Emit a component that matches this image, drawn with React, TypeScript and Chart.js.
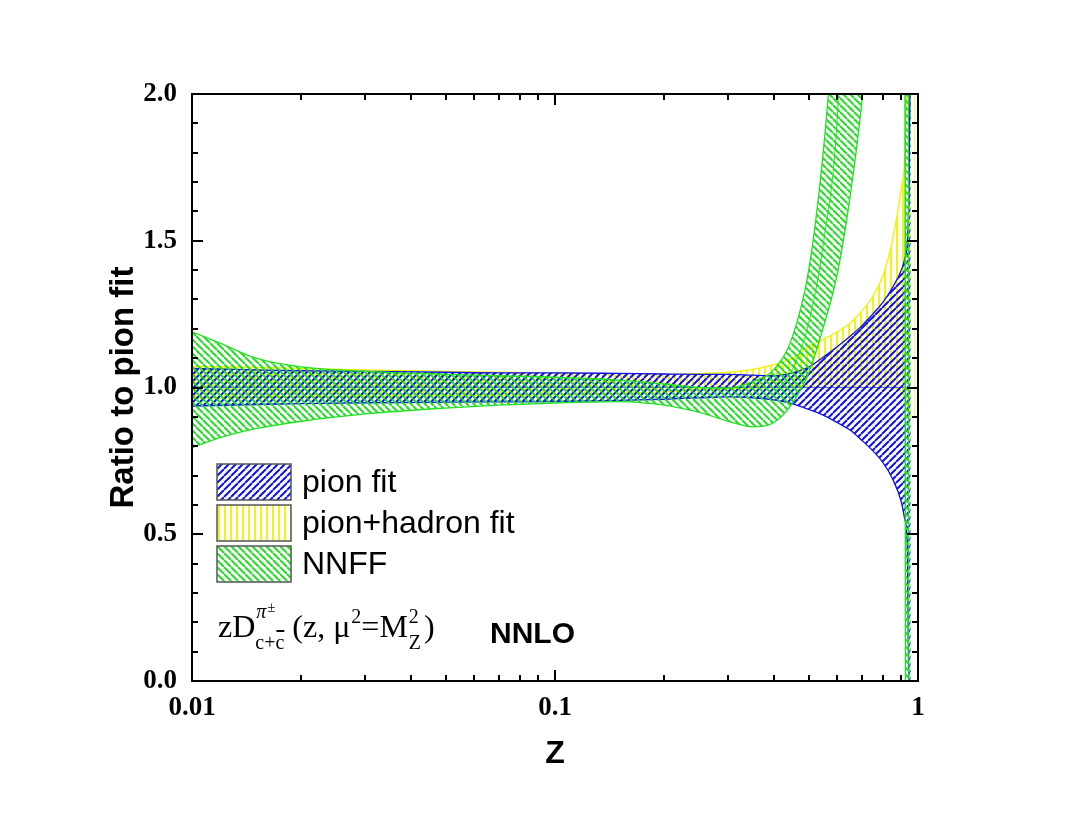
import React, { useEffect, useRef } from "react";
import { Chart, registerables } from "chart.js";

Chart.register(...registerables);

// ---------------- data ----------------
const zPion = [0.01, 0.015, 0.02, 0.03, 0.05, 0.07, 0.1, 0.15, 0.2, 0.25, 0.3, 0.35, 0.4, 0.45, 0.5, 0.55, 0.6, 0.65, 0.7, 0.75, 0.8, 0.85, 0.9, 0.92, 0.935, 0.945, 0.955];
const pionUpper = [1.065, 1.06, 1.057, 1.055, 1.052, 1.05, 1.05, 1.048, 1.046, 1.045, 1.045, 1.042, 1.04, 1.05, 1.07, 1.105, 1.14, 1.175, 1.21, 1.25, 1.29, 1.34, 1.4, 1.44, 1.5, 1.7, 2.3];
const pionLower = [0.937, 0.942, 0.945, 0.948, 0.95, 0.951, 0.952, 0.956, 0.96, 0.965, 0.968, 0.965, 0.958, 0.945, 0.925, 0.905, 0.88, 0.855, 0.82, 0.785, 0.745, 0.69, 0.61, 0.55, 0.45, -0.2, -0.5];
const pionCentral = [1, 1, 1, 1, 1, 1, 1, 1, 1, 1, 1, 1, 1, 1, 1, 1, 1, 1, 1, 1, 1, 1, 1, 1, 1, 1, 1];

const zHadron = [0.01, 0.015, 0.02, 0.03, 0.05, 0.07, 0.1, 0.15, 0.2, 0.25, 0.3, 0.35, 0.4, 0.45, 0.5, 0.55, 0.6, 0.65, 0.7, 0.75, 0.8, 0.85, 0.9, 0.92, 0.94, 0.96, 0.98];
const hadronUpper = [1.072, 1.068, 1.065, 1.06, 1.055, 1.052, 1.05, 1.047, 1.045, 1.047, 1.052, 1.062, 1.078, 1.1, 1.14, 1.165, 1.19, 1.22, 1.26, 1.31, 1.38, 1.5, 1.68, 1.79, 2.2, 2.6, 2.6];
const hadronLower = [0.963, 0.966, 0.968, 0.97, 0.972, 0.974, 0.975, 0.98, 0.985, 0.99, 0.995, 0.998, 1.0, 1.0, 1.0, 1.0, 1.0, 1.0, 1.0, 1.0, 1.0, 1.0, 0.985, 0.965, 0.93, 0.9, 0.9];

const zNNFF = [0.01, 0.012, 0.015, 0.02, 0.03, 0.05, 0.07, 0.1, 0.15, 0.2, 0.25, 0.3, 0.35, 0.4, 0.45, 0.5, 0.55, 0.6, 0.65, 0.7, 0.75, 0.8, 0.9, 0.92, 0.925, 0.94, 0.945, 1.0];
const nnffUpper = [1.19, 1.15, 1.1, 1.07, 1.055, 1.045, 1.04, 1.035, 1.025, 1.012, 1.0, 0.998, 1.02, 1.06, 1.17, 1.4, 1.82, 2.4, 3, 3, 3, 3, 3, 3, -1, -1, -1, -1];
const nnffLower = [0.795, 0.83, 0.86, 0.885, 0.91, 0.93, 0.94, 0.947, 0.952, 0.94, 0.915, 0.885, 0.866, 0.88, 0.945, 1.05, 1.21, 1.39, 1.65, 1.97, 2.4, 3, 3, 3, 3, 3, -1, -1];
const nnffCentral = [null, null, null, null, null, null, null, null, null, null, null, null, null, 0.98, 1.06, 1.22, 1.5, 1.93, 3, 3, 3, 3, 3, 3, -1, -1, -1, -1];

const xTickValues = [0.01, 0.02, 0.03, 0.04, 0.05, 0.06, 0.07, 0.08, 0.09, 0.1, 0.2, 0.3, 0.4, 0.5, 0.6, 0.7, 0.8, 0.9, 1];
const xMajorTicks = [0.01, 0.1, 1];
const xTickLabels = ["0.01", "0.1", "1"];
const yTickValues = [0, 0.1, 0.2, 0.3, 0.4, 0.5, 0.6, 0.7, 0.8, 0.9, 1.0, 1.1, 1.2, 1.3, 1.4, 1.5, 1.6, 1.7, 1.8, 1.9, 2.0];
const yMajorTicks = [0, 0.5, 1.0, 1.5, 2.0];
const yTickLabels = ["0.0", "0.5", "1.0", "1.5", "2.0"];

const legendLabels = ["pion fit", "pion+hadron fit", "NNFF"];

// ---------------- styles ----------------
const BLUE = "#1010f0";
const YELLOW = "#f2f200";
const GREEN = "#22e022";
const SERIF = '"Liberation Serif", "Times New Roman", serif';
const SANS = '"Liberation Sans", Arial, sans-serif';

function makeHatch(color: string, kind: "/" | "\\" | "|", size: number, lw: number): CanvasPattern {
  const c = document.createElement("canvas");
  c.width = size;
  c.height = size;
  const g = c.getContext("2d")!;
  g.strokeStyle = color;
  g.lineWidth = lw;
  g.beginPath();
  if (kind === "|") {
    g.moveTo(size / 2, 0);
    g.lineTo(size / 2, size);
  } else {
    for (const o of [-size, 0, size]) {
      if (kind === "/") {
        g.moveTo(o, size);
        g.lineTo(o + size, 0);
      } else {
        g.moveTo(o, 0);
        g.lineTo(o + size, size);
      }
    }
  }
  g.stroke();
  return g.createPattern(c, "repeat")!;
}

function pts(xs: number[], ys: (number | null)[]) {
  return xs.map((x, i) => ({ x, y: ys[i] }));
}

export default function App() {
  const ref = useRef<HTMLCanvasElement | null>(null);

  useEffect(() => {
    const canvas = ref.current;
    if (!canvas) return;
    const bluePat = makeHatch(BLUE, "/", 7, 2);
    const yellowPat = makeHatch(YELLOW, "|", 6, 1.8);
    const greenPat = makeHatch(GREEN, "\\", 7, 2);

    const framePlugin = {
      id: "frame",
      afterDatasetsDraw(chart: any) {
        const { ctx, chartArea } = chart;
        const { left, right, top, bottom } = chartArea;
        const xs = chart.scales.x;
        const ys = chart.scales.y;
        ctx.save();
        ctx.strokeStyle = "#000";
        ctx.lineWidth = 2;
        ctx.beginPath();
        xTickValues.forEach((v) => {
          const p = Math.round(xs.getPixelForValue(v));
          const len = xMajorTicks.includes(v) ? 11 : 6;
          ctx.moveTo(p, bottom);
          ctx.lineTo(p, bottom - len);
          ctx.moveTo(p, top);
          ctx.lineTo(p, top + len);
        });
        yTickValues.forEach((v) => {
          const p = Math.round(ys.getPixelForValue(v));
          const len = yMajorTicks.includes(v) ? 11 : 6;
          ctx.moveTo(left, p);
          ctx.lineTo(left + len, p);
          ctx.moveTo(right, p);
          ctx.lineTo(right - len, p);
        });
        ctx.stroke();
        ctx.strokeRect(left, top, right - left, bottom - top);
        ctx.restore();
      },
      afterDraw(chart: any) {
        const { ctx, chartArea } = chart;
        const { left, top } = chartArea;
        ctx.save();
        // legend
        const pats = [bluePat, yellowPat, greenPat];
        legendLabels.forEach((lab, i) => {
          const bx = left + 25;
          const by = top + 370 + i * 41;
          ctx.fillStyle = "#fff";
          ctx.fillRect(bx, by, 74, 36);
          ctx.fillStyle = pats[i];
          ctx.fillRect(bx, by, 74, 36);
          ctx.strokeStyle = "#555";
          ctx.lineWidth = 1.5;
          ctx.strokeRect(bx, by, 74, 36);
          ctx.fillStyle = "#000";
          ctx.font = `32px ${SANS}`;
          ctx.textBaseline = "middle";
          ctx.textAlign = "left";
          ctx.fillText(lab, left + 110, by + 19);
        });
        // annotation
        ctx.fillStyle = "#000";
        ctx.textBaseline = "alphabetic";
        ctx.textAlign = "left";
        const base = top + 543;
        let x = left + 26;
        ctx.font = `32px ${SERIF}`;
        ctx.fillText("zD", x, base);
        x += ctx.measureText("zD").width;
        ctx.font = `italic 20px ${SERIF}`;
        ctx.fillText("π", x + 1, base - 19);
        ctx.font = `15px ${SERIF}`;
        ctx.fillText("±", x + 12, base - 25);
        ctx.font = `20px ${SERIF}`;
        ctx.fillText("c+c", x, base + 12);
        const wcc = ctx.measureText("c+c").width;
        const wc = ctx.measureText("c").width;
        ctx.fillRect(x + wcc - wc + 1, base - 7, wc - 1, 2);
        x += wcc + 8;
        ctx.font = `32px ${SERIF}`;
        ctx.fillText("(z, μ", x, base);
        x += ctx.measureText("(z, μ").width + 1;
        ctx.font = `20px ${SERIF}`;
        ctx.fillText("2", x, base - 14);
        x += ctx.measureText("2").width;
        ctx.font = `32px ${SERIF}`;
        ctx.fillText("=M", x, base);
        x += ctx.measureText("=M").width + 1;
        ctx.font = `20px ${SERIF}`;
        ctx.fillText("2", x, base - 14);
        ctx.fillText("Z", x, base + 12);
        x += ctx.measureText("Z").width + 3;
        ctx.font = `32px ${SERIF}`;
        ctx.fillText(")", x, base);
        ctx.font = `bold 30px ${SANS}`;
        ctx.fillText("NNLO", left + 298, base + 6);
        ctx.restore();
      },
    };

    const line = (data: any, color: string, extra: any = {}) => ({
      data,
      borderColor: color,
      borderWidth: 1.3,
      pointRadius: 0,
      cubicInterpolationMode: "monotone",
      fill: false,
      spanGaps: false,
      ...extra,
    });

    const chart = new Chart(canvas, {
      type: "line",
      data: {
        datasets: [
          line(pts(zNNFF, nnffUpper), GREEN, { fill: "+1", backgroundColor: greenPat }),
          line(pts(zNNFF, nnffLower), GREEN),
          line(pts(zNNFF, nnffCentral), GREEN, { borderWidth: 1 }),
          line(pts(zPion, pionUpper), BLUE, { fill: "+1", backgroundColor: bluePat }),
          line(pts(zPion, pionLower), BLUE),
          line(pts(zPion, pionCentral), "#6a6ad0", { borderWidth: 1 }),
          line(pts(zHadron, hadronUpper), YELLOW, { fill: "+1", backgroundColor: yellowPat }),
          line(pts(zHadron, hadronLower), YELLOW),
        ],
      },
      options: {
        responsive: false,
        animation: false,
        layout: { padding: { left: 0, top: 94, right: 149, bottom: 0 } },
        plugins: {
          legend: { display: false },
          tooltip: { enabled: false },
          filler: { propagate: false },
        },
        scales: {
          x: {
            type: "logarithmic",
            min: 0.01,
            max: 1,
            afterBuildTicks: (scale: any) => {
              scale.ticks = xTickValues.map((v) => ({ value: v }));
            },
            afterFit: (scale: any) => {
              scale.height = 136;
            },
            ticks: {
              autoSkip: false,
              maxRotation: 0,
              padding: 11,
              color: "#000",
              font: { family: SERIF, size: 27, weight: "bold" },
              callback: (v: any) => {
                const i = xMajorTicks.indexOf(Number(v));
                return i >= 0 ? xTickLabels[i] : "";
              },
            },
            grid: { display: false, drawTicks: false },
            border: { display: false },
            title: {
              display: true,
              text: "Z",
              color: "#000",
              font: { family: SANS, size: 32, weight: "bold" },
              padding: { top: 0, bottom: 44 },
            },
          },
          y: {
            type: "linear",
            min: 0,
            max: 2,
            afterBuildTicks: (scale: any) => {
              scale.ticks = yTickValues.map((v) => ({ value: v }));
            },
            afterFit: (scale: any) => {
              scale.width = 192;
            },
            ticks: {
              autoSkip: false,
              padding: 15,
              color: "#000",
              font: { family: SERIF, size: 27, weight: "bold" },
              callback: (v: any) => {
                const i = yMajorTicks.findIndex((m) => Math.abs(m - Number(v)) < 1e-9);
                return i >= 0 ? yTickLabels[i] : "";
              },
            },
            grid: { display: false, drawTicks: false },
            border: { display: false },
            title: {
              display: true,
              text: "Ratio to pion fit",
              color: "#000",
              font: { family: SANS, size: 33, weight: "bold" },
              padding: { top: 104, bottom: 0 },
            },
          },
        },
      },
      plugins: [framePlugin],
    } as any);

    return () => chart.destroy();
  }, []);

  return (
    <div style={{ position: "absolute", left: 0, top: 0, width: 1067, height: 817, background: "#fff" }}>
      <canvas ref={ref} width={1067} height={817} style={{ display: "block" }} />
    </div>
  );
}
